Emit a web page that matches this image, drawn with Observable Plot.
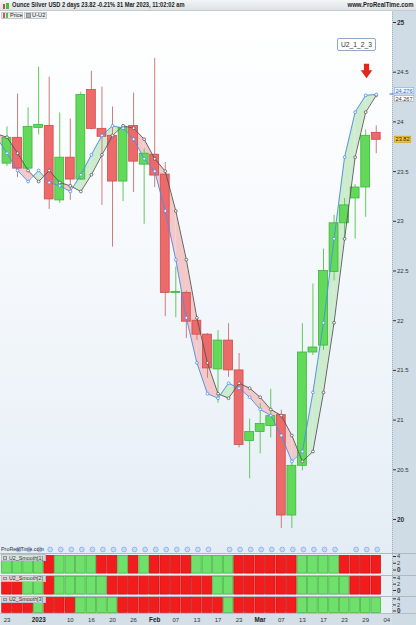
<!DOCTYPE html>
<html><head><meta charset="utf-8">
<script src="https://cdn.jsdelivr.net/npm/d3@7"></script>
<script src="https://cdn.jsdelivr.net/npm/@observablehq/plot@0.6"></script>
<style>
html,body{margin:0;padding:0;background:#fff;}
#root{position:relative;width:416px;height:625px;overflow:hidden;font-family:"Liberation Sans",Arial,sans-serif;color:#222;}
#root > *{position:absolute;}
.txt{white-space:nowrap;line-height:1;}
</style></head><body><div id="root"></div>
<script>
// ---------- DATA (2-day bars, Dec 23 2022 .. Mar 31 2023) ----------
const opens  = [23.58,23.84,23.53,23.94,23.96,23.21,23.64,23.42,24.32,23.93,23.86,23.40,23.96,23.57,23.67,23.47,22.28,22.28,22.00,21.86,21.51,21.80,21.50,20.79,20.88,20.94,21.05,20.04,20.54,21.68,21.75,22.49,22.98,23.23,23.34,23.89];
const highs  = [23.95,24.28,24.14,24.55,24.45,24.09,24.03,24.30,24.51,24.35,24.15,23.96,24.29,23.73,24.64,23.59,22.54,22.30,22.03,21.87,21.90,21.97,21.67,21.01,21.17,21.31,21.10,20.60,21.97,22.37,22.72,23.06,23.23,23.37,23.92,23.96];
const lows   = [23.55,23.44,23.51,23.87,23.12,23.18,23.21,23.41,23.92,23.16,22.74,23.20,23.29,22.97,23.34,22.04,22.03,21.82,21.80,21.42,21.17,21.43,20.72,20.41,20.66,20.82,19.91,19.91,20.49,21.65,21.70,22.40,22.82,22.82,23.04,23.68];
const closes = [23.84,23.53,23.95,23.97,23.22,23.64,23.42,24.27,23.93,23.85,23.40,23.94,23.60,23.68,23.46,22.28,22.29,21.99,21.86,21.52,21.80,21.50,20.75,20.88,20.96,21.04,20.04,20.54,21.68,21.73,22.50,22.98,23.16,23.34,23.86,23.82];
// U (blue) and U2 (grey) lines
const uLine  = [23.685,23.511,23.400,23.511,23.390,23.357,23.300,23.468,23.669,23.863,23.961,23.937,23.826,23.629,23.504,23.104,22.614,22.029,21.576,21.265,21.220,21.371,21.321,21.230,21.107,21.046,20.845,20.584,20.684,21.278,21.979,22.824,23.645,24.098,24.267,24.276];
const u2Line = [23.846,23.685,23.511,23.400,23.511,23.390,23.357,23.300,23.468,23.669,23.863,23.961,23.937,23.826,23.629,23.504,23.104,22.614,22.029,21.576,21.265,21.220,21.371,21.321,21.230,21.107,21.046,20.845,20.584,20.684,21.278,21.979,22.824,23.645,24.098,24.267];
const uLead = 23.846, u2Lead = 23.88;   // values of the bar just before the visible range
// U2_Smooth indicator states (G = green, R = red)
const smooth1 = "GGGGRGGGGRRGRGRRRRGGGGRRRRRRGGGGRRRR".split("");
const smooth2 = "RRGGRGGGGGRRRRRRRRRRGGRRRRRRGGGGGRRR".split("");
const smooth3 = "RRRGRRRGGGGRRRRRRRRRRGRRRRRRGGGGGGGG".split("");
// x axis labels (bar index -> label)
const tickIdx    = [0,3,6,8,10,12,14,16,18,20,22,24,26,28,30,32,34,36];
const tickLabels = ["23","2023","10","16","20","26","Feb","07","13","17","23","Mar","07","13","17","23","29","04"];
const priceTicks = [20,20.5,21,21.5,22,22.5,23,23.5,24,24.5,25];
const panelTicks = [0,2,4];
// event icons above the indicator panels (bar indices)
const iconBars = [1,2,3,4,5,6,7,8,9,10,11,12,13,14,15,16,17,18,19,21,22,23,24,25,26,27,28,29,30,31,33,34,35];
const signalBar = 34;
const headerText = "Ounce Silver USD 2 days 23.82 -0.21% 31 Mar 2023, 11:02:02 am";

// ---------- STYLE ----------
const FONT = '"Liberation Sans", Arial, sans-serif';
const RED_B = "#ec6a6a", RED_S = "#cf4b4b", RED_W = "#cf7b7b";
const GRN_B = "#62d95a", GRN_S = "#3db536", GRN_W = "#62c95d";
const BLUE = "#4b8cf0", GREY = "#555555";
const FILL_UP = "#cdebcd", FILL_DN = "#f3c8c8";
const CELL_R = "#f21c1c", CELL_RS = "#c81010", CELL_G = "#6fe06b", CELL_GS = "#3bb137";
const xDomain = [-0.616, 36.54];

const root = document.getElementById("root");
function box(x, y, w, h, st) {
  const d = document.createElement("div");
  Object.assign(d.style, {left: x + "px", top: y + "px", width: w + "px", height: h + "px", boxSizing: "border-box"}, st || {});
  root.appendChild(d); return d;
}
function addText(str, x, cy, o = {}) {
  const s = document.createElement("div");
  s.className = "txt"; s.textContent = str;
  const size = o.size || 6;
  Object.assign(s.style, {left: x + "px", top: (cy - size * 0.55) + "px", fontSize: size + "px",
    fontWeight: o.weight || "normal", color: o.color || "#222", fontFamily: FONT});
  root.appendChild(s);
  const r = s.getBoundingClientRect().width;
  if (o.right) { s.style.left = (x - r) + "px"; s.style.transformOrigin = "right top"; }
  else s.style.transformOrigin = "left top";
  if (o.w && r > 0) s.style.transform = `scaleX(${o.w / r})`;
  return s;
}
function placeSvg(svg, top) {
  svg.style.position = "absolute"; svg.style.left = "0px"; svg.style.top = top + "px";
  root.appendChild(svg); return svg;
}

// ---------- BACKGROUNDS ----------
box(0, 12, 392, 541, {background: "linear-gradient(to bottom,#ffffff 0%,#f6f9fc 45%,#e4edf5 100%)"});
box(392, 11, 24, 614, {background: "#cfdce6"});
box(0, 553, 392, 60, {background: "#e8eff5"});
box(0, 613, 392, 12, {background: "#d4dfe7"});
[553, 574.5, 595.5].forEach(y => box(0, y, 416, 1, {background: "#aeb9c2"}));
box(0, 612.8, 416, 1, {background: "#b3bec7"});
box(392, 12, 1, 601, {borderLeft: "1px dotted #9eb0bd"});

// ---------- MAIN PRICE PANEL ----------
const idx = d3.range(36);
const bars = idx.map(i => ({i, open: opens[i], high: highs[i], low: lows[i], close: closes[i], up: closes[i] >= opens[i]}));
const lineData = [{i: -1, u: uLead, u2: u2Lead}, ...idx.map(i => ({i, u: uLine[i], u2: u2Line[i]}))];
const fillRows = []; let segId = 0;
function pushSeg(pts, col) { const id = segId++; pts.forEach(p => fillRows.push({seg: id, x: p[0], a: p[1], b: p[2], col})); }
for (let k = 0; k < lineData.length - 1; k++) {
  const p = lineData[k], q = lineData[k + 1];
  const d0 = p.u - p.u2, d1 = q.u - q.u2;
  if (d0 * d1 >= 0) pushSeg([[p.i, p.u, p.u2], [q.i, q.u, q.u2]], (d0 + d1) >= 0 ? FILL_UP : FILL_DN);
  else {
    const t = d0 / (d0 - d1);
    const xm = p.i + t * (q.i - p.i), ym = p.u + t * (q.u - p.u);
    pushSeg([[p.i, p.u, p.u2], [xm, ym, ym]], d0 > 0 ? FILL_UP : FILL_DN);
    pushSeg([[xm, ym, ym], [q.i, q.u, q.u2]], d1 > 0 ? FILL_UP : FILL_DN);
  }
}
const markers = lineData.filter(d => d.i >= 0);
const mainH = 530;
const main = Plot.plot({
  width: 416, height: mainH, marginLeft: 0, marginRight: 24, marginTop: 0, marginBottom: 0,
  x: {domain: xDomain, range: [0, 392], axis: null},
  y: {domain: [20 - 23 / 99.4, 20 + 507 / 99.4], axis: null},
  style: {background: "transparent", fontFamily: FONT, fontSize: "6px", color: "#333"},
  marks: [
    Plot.area(fillRows, {x1: "x", y1: "a", y2: "b", z: "seg", fill: "col"}),
    Plot.ruleX(bars, {x: "i", y1: "low", y2: "high", stroke: d => d.up ? GRN_W : RED_W, strokeWidth: 1}),
    Plot.rect(bars, {x1: d => d.i - 0.42, x2: d => d.i + 0.42, y1: "open", y2: "close",
      fill: d => d.up ? GRN_B : RED_B, stroke: d => d.up ? GRN_S : RED_S, strokeWidth: 0.8}),
    Plot.line(lineData, {x: "i", y: "u2", stroke: GREY, strokeWidth: 0.9}),
    Plot.line(lineData, {x: "i", y: "u", stroke: BLUE, strokeWidth: 0.9}),
    Plot.dot(markers, {x: "i", y: "u2", r: 1.4, fill: "white", stroke: GREY, strokeWidth: 0.8}),
    Plot.dot(markers, {x: "i", y: "u", r: 1.4, fill: "white", stroke: BLUE, strokeWidth: 0.8}),
    Plot.axisY({anchor: "right", ticks: priceTicks.filter(t => t % 5 !== 0), tickSize: 3, tickPadding: 1.5,
      tickFormat: d => String(d), fontSize: 6, label: null}),
    Plot.axisY({anchor: "right", ticks: priceTicks.filter(t => t % 5 === 0), tickSize: 3, tickPadding: 1.5,
      tickFormat: d => String(d), fontSize: 6.5, fontWeight: "bold", label: null})
  ]
});
placeSvg(main, 12);
{
  const sx = main.scale("x"), sy = main.scale("y");
  const svg = d3.select(main);
  // signal arrow
  const cx = sx.apply(signalBar) + 1.3;
  const yT = sy.apply(24.58), yM = sy.apply(24.515), yB = sy.apply(24.435);
  svg.append("path").attr("d", `M${cx - 2.6},${yT}H${cx + 2.6}V${yM}H${cx + 5.8}L${cx},${yB}L${cx - 5.8},${yM}H${cx - 2.6}Z`)
    .attr("fill", "#e3261b");
  // price tags
  const tags = [
    {v: uLine[35], text: uLine[35].toFixed(3), dy: -3.3, fill: "#eef4fd", stroke: "#80a8e8", color: "#2d6cd4"},
    {v: u2Line[35], text: u2Line[35].toFixed(3), dy: 3.6, fill: "#ffffff", stroke: "#a0a0a0", color: "#333"},
    {v: closes[35], text: closes[35].toFixed(2), dy: 0, fill: "#f3c234", stroke: "#cf9c12", color: "#222"}
  ];
  tags.forEach(t => {
    const y = sy.apply(t.v) + t.dy;
    const w = t.text.length > 5 ? 19.5 : 16.5;
    svg.append("rect").attr("x", 394.3).attr("y", y - 3.1).attr("width", w).attr("height", 6.2)
      .attr("fill", t.fill).attr("stroke", t.stroke).attr("stroke-width", 0.6);
    svg.append("text").attr("x", 394.3 + w / 2).attr("y", y + 2.1).attr("text-anchor", "middle")
      .attr("font-size", 5.6).attr("fill", t.color).attr("font-family", FONT).text(t.text);
  });
  svg.append("line").attr("x1", 389.5).attr("x2", 393.5).attr("y1", sy.apply(uLine[35])).attr("y2", sy.apply(uLine[35]))
    .attr("stroke", BLUE).attr("stroke-width", 1.2);
}

// ---------- EVENT ICONS ROW ----------
const icons = Plot.plot({
  width: 416, height: 12, marginLeft: 0, marginRight: 24, marginTop: 0, marginBottom: 0,
  x: {domain: xDomain, range: [0, 392], axis: null},
  style: {background: "transparent"},
  marks: [Plot.dot(iconBars, {x: d => d, frameAnchor: "middle", dx: 1, r: 2.4, fill: "#c7daf4", stroke: "#7ea6e2", strokeWidth: 0.7})]
});
placeSvg(icons, 543);

// ---------- INDICATOR PANELS ----------
function panel(states, top, bottom, y0, y4) {
  const h = bottom - top, k = (y4 - y0) / 4;
  const vTop = (top - y0) / k, vBot = (bottom - y0) / k;
  const p = Plot.plot({
    width: 416, height: h, marginLeft: 0, marginRight: 24, marginTop: 0, marginBottom: 0,
    x: {domain: xDomain, range: [0, 392], axis: null},
    y: {domain: [vBot, vTop], axis: null},
    style: {background: "transparent", fontFamily: FONT, fontSize: "6px", color: "#333", overflow: "visible"},
    marks: [
      Plot.rect(idx, {x1: i => i - 0.455, x2: i => i + 0.455, insetTop: 0.4, insetBottom: 0.4,
        fill: i => states[i] === "G" ? CELL_G : CELL_R, stroke: i => states[i] === "G" ? CELL_GS : CELL_RS, strokeWidth: 0.7}),
      Plot.axisY({anchor: "right", ticks: panelTicks.filter(t => t > 0), tickSize: 3, tickPadding: 1.5,
        tickFormat: d => String(d), fontSize: 5.8, label: null}),
      Plot.axisY({anchor: "right", ticks: panelTicks.filter(t => t === 0), tickSize: 3, tickPadding: 1.5,
        tickFormat: d => String(d), fontSize: 6.3, fontWeight: "bold", label: null})
    ]
  });
  placeSvg(p, top);
}
panel(smooth1, 555, 573.5, 569.5, 556);
panel(smooth2, 576, 594.5, 590, 577.3);
panel(smooth3, 597, 612.8, 610.5, 598.3);

// ---------- X AXIS ----------
const tickData = tickIdx.map((i, k) => ({i, label: tickLabels[k], bold: !/^\d\d$/.test(tickLabels[k])}));
const xax = Plot.plot({
  width: 416, height: 12, marginLeft: 0, marginRight: 24, marginTop: 0, marginBottom: 0,
  x: {domain: xDomain, range: [0, 392], axis: null},
  style: {background: "transparent", fontFamily: FONT, color: "#333", overflow: "visible"},
  marks: [
    Plot.text(tickData.filter(d => !d.bold), {x: "i", text: "label", frameAnchor: "middle", dy: 0.5, fontSize: 6, fill: "#333"}),
    Plot.text(tickData.filter(d => d.bold), {x: "i", text: "label", frameAnchor: "middle", dy: 0.5, fontSize: 6.3, fontWeight: "bold", fill: "#222"})
  ]
});
placeSvg(xax, 613);

// ---------- HEADER / LEGENDS / LABELS ----------
box(0, 0, 416, 11, {background: "linear-gradient(to bottom,#f3f5f6,#dde2e5)", borderBottom: "1px solid #c3cad0"});
box(2.5, 3.5, 2.5, 5, {background: "#e04040"});
box(6, 2.5, 2.5, 6, {background: "#3fbf3a"});
addText(headerText, 11.7, 5.7, {size: 6.5, weight: "bold", w: 172.5, color: "#1e1e1e"});
addText("www.ProRealTime.com", 413.5, 5.7, {size: 6.5, weight: "bold", w: 66, right: true, color: "#1e1e1e"});
// legend
box(0.7, 11.8, 22.6, 7.6, {background: "rgba(232,234,236,0.9)", border: "1px solid #c4c9cd"});
box(2.7, 13.4, 2.8, 4.6, {background: "#e05050"});
box(5.5, 13.4, 2.8, 4.6, {background: "#4cc447"});
addText("Price", 9.5, 15.7, {size: 6, w: 12.5});
box(24.3, 11.8, 22.4, 7.6, {background: "rgba(232,234,236,0.9)", border: "1px solid #c4c9cd"});
box(26, 13.4, 5, 4.6, {background: "#a9b0b6", border: "0.5px solid #8a9197"});
addText("U-U2", 32.3, 15.7, {size: 6, w: 13.4});
// signal label
box(336.7, 38.3, 39.3, 12.4, {background: "#fff", border: "1px solid #8fa9c6", borderRadius: "2px"});
addText("U2_1_2_3", 340.7, 44.5, {size: 7, w: 31, color: "#333"});
// indicator labels
addText("ProRealTime.com", 1, 549.7, {size: 6, w: 43, color: "#333"});
[["U2_Smooth[1]", 554.3], ["U2_Smooth[2]", 575], ["U2_Smooth[3]", 596]].forEach(([t, y]) => {
  box(1, y, 44.5, 7, {background: "rgba(228,231,234,0.88)", border: "1px solid #b9bfc4"});
  box(2.7, y + 1.6, 4, 3.8, {background: "#c9ced2", border: "0.5px solid #8d949a"});
  addText(t, 9.3, y + 3.6, {size: 6, w: 34, color: "#333"});
});
</script></body></html>
